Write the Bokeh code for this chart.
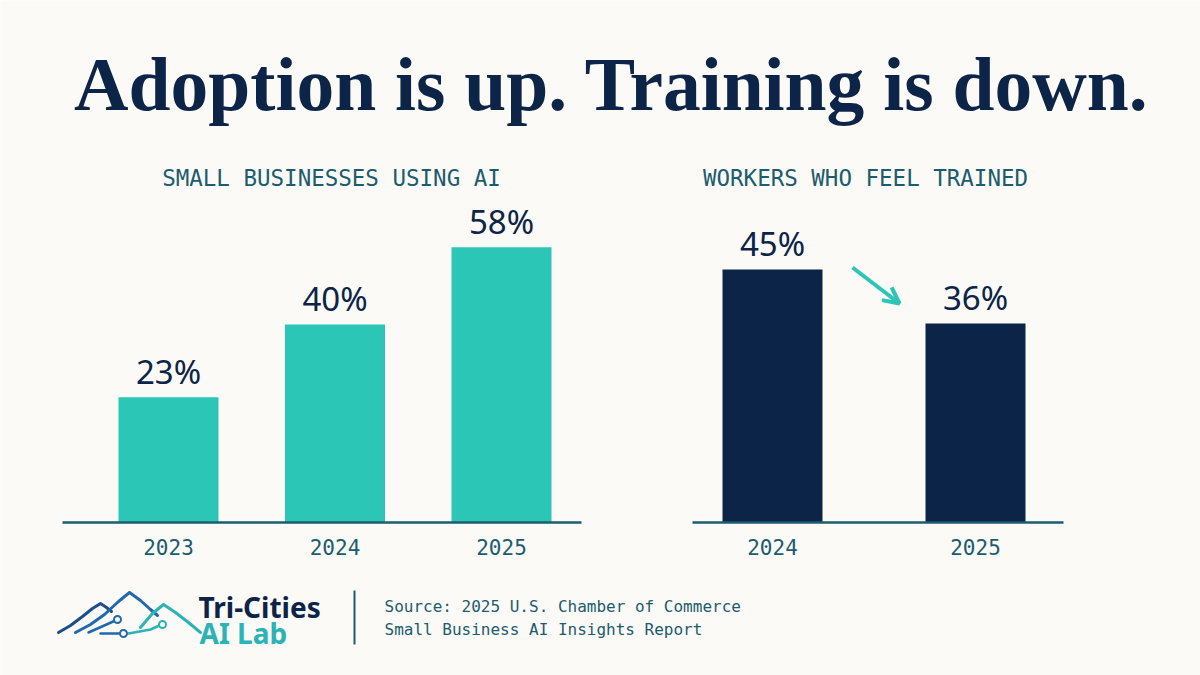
from bokeh.plotting import figure
from bokeh.models import Range1d, ColumnDataSource, Arrow, OpenHead
from bokeh.core.properties import value
from bokeh.embed import file_html
from bokeh.resources import INLINE

# ---------------- data ----------------
title = "Adoption is up. Training is down."
left_title = "SMALL BUSINESSES USING AI"
left_years = ["2023", "2024", "2025"]
left_values = [23, 40, 58]
right_title = "WORKERS WHO FEEL TRAINED"
right_years = ["2024", "2025"]
right_values = [45, 36]
brand_line1 = "Tri-Cities"
brand_line2 = "AI Lab"
source_lines = ["Source: 2025 U.S. Chamber of Commerce",
                "Small Business AI Insights Report"]

# ---------------- style ----------------
BG = "#FBFAF6"
NAVY = "#0B2447"
TEAL = "#2BC6B5"
LTEAL = "#2BB3B5"
BLUE = "#1F69AC"
DBLUE = "#1D4E89"
DTEAL = "#1B5C6E"
W, H = 1200, 675
SHIFT = 0.35  # svg baseline compensation (fraction of font size)

p = figure(width=W, height=H, output_backend="svg", toolbar_location=None,
           x_range=Range1d(0, W), y_range=Range1d(H, 0),
           min_border=0, min_border_left=0, min_border_right=0,
           min_border_top=0, min_border_bottom=0)
p.outline_line_color = None
p.background_fill_color = BG
p.border_fill_color = BG
p.axis.visible = False
p.grid.visible = False

# chart ranges (screen layout of each panel)
L_X0, L_DX = 168.0, 166.5
L_BASE, L_K, L_FLOOR = 522.0, 4.286, -6.2
R_X0, R_DX = 772.0, 203.0
R_BASE, R_K, R_FLOOR = 522.0, 6.0, 2.83

p.extra_x_ranges = {
    "lx": Range1d(-L_X0 / L_DX, (W - L_X0) / L_DX),
    "rx": Range1d(-R_X0 / R_DX, (W - R_X0) / R_DX),
}
p.extra_y_ranges = {
    "ly": Range1d(L_FLOOR - (H - L_BASE) / L_K, L_FLOOR + L_BASE / L_K),
    "ry": Range1d(R_FLOOR - (H - R_BASE) / R_K, R_FLOOR + R_BASE / R_K),
}

lsrc = ColumnDataSource(dict(x=list(range(len(left_years))), v=left_values,
                             lab=[f"{v}%" for v in left_values], yr=left_years))
rsrc = ColumnDataSource(dict(x=list(range(len(right_years))), v=right_values,
                             lab=[f"{v}%" for v in right_values], yr=right_years))


def ty(baseline, size):
    return baseline - SHIFT * size


# title
p.text(x=[611], y=[ty(110, 75.5)], text=[title], text_font=value("Liberation Serif"),
       text_font_style="bold", text_font_size="75.5px", text_color=NAVY,
       text_align="center", text_baseline="alphabetic")

# subtitles
p.text(x=[331, 865], y=[ty(185, 22.5)] * 2, text=[left_title, right_title],
       text_font=value("DejaVu Sans Mono"), text_font_size="22.5px",
       text_color=DTEAL, text_align="center", text_baseline="alphabetic")

LAB = 33
# left bars
p.vbar(x="x", top="v", bottom=L_FLOOR, width=100 / L_DX, source=lsrc,
       x_range_name="lx", y_range_name="ly", fill_color=TEAL, line_color=None)
p.text(x="x", y="v", text="lab", source=lsrc, x_range_name="lx", y_range_name="ly",
       y_offset=-14 - SHIFT * LAB, text_font=value("Noto Sans"),
       text_font_size=f"{LAB}px", text_color=NAVY, text_align="center",
       text_baseline="alphabetic")
p.text(x="x", y=ty(554, 21), text="yr", source=lsrc, x_range_name="lx",
       text_font=value("DejaVu Sans Mono"), text_font_size="21px",
       text_color=DTEAL, text_align="center", text_baseline="alphabetic")
p.line(x=[62, 581], y=[L_BASE, L_BASE], line_color=DTEAL, line_width=2.5)

# right bars
p.vbar(x="x", top="v", bottom=R_FLOOR, width=100 / R_DX, source=rsrc,
       x_range_name="rx", y_range_name="ry", fill_color=NAVY, line_color=None)
p.text(x="x", y="v", text="lab", source=rsrc, x_range_name="rx", y_range_name="ry",
       y_offset=-14 - SHIFT * LAB, text_font=value("Noto Sans"),
       text_font_size=f"{LAB}px", text_color=NAVY, text_align="center",
       text_baseline="alphabetic")
p.text(x="x", y=ty(554, 21), text="yr", source=rsrc, x_range_name="rx",
       text_font=value("DejaVu Sans Mono"), text_font_size="21px",
       text_color=DTEAL, text_align="center", text_baseline="alphabetic")
p.line(x=[692, 1063], y=[R_BASE, R_BASE], line_color=DTEAL, line_width=2.5)

# trend arrow
p.add_layout(Arrow(x_start=852, y_start=267, x_end=899, y_end=303,
                   line_color=TEAL, line_width=4,
                   end=OpenHead(size=16, line_color=TEAL, line_width=4)))

# logo mountains
p.multi_line(
    xs=[[58, 70, 82, 92, 100, 106, 111],
        [75, 90, 104, 118, 129, 140, 150, 157],
        [140, 152, 163, 175, 188, 200]],
    ys=[[632, 625, 616, 608, 603, 607, 611],
        [632, 624, 614, 601, 592, 600, 609, 615],
        [627, 613, 604, 612, 622, 632]],
    line_color=[DBLUE, BLUE, LTEAL], line_width=3,
    line_cap="round", line_join="round")
p.multi_line(
    xs=[[88, 106, 115], [100, 120], [128, 150, 159]],
    ys=[[632, 624, 620], [633, 633], [633, 629, 625]],
    line_color=[BLUE, BLUE, LTEAL], line_width=2.5,
    line_cap="round")
p.scatter(x=[117, 123, 162], y=[619, 633, 624], size=7, fill_color=BG,
          line_color=[BLUE, BLUE, LTEAL], line_width=2)

p.text(x=[198], y=[ty(616, 28)], text=[brand_line1], text_font=value("Noto Sans"),
       text_font_style="bold", text_font_size="28px", text_color=NAVY,
       text_baseline="alphabetic")
p.text(x=[199], y=[ty(642, 28)], text=[brand_line2], text_font=value("Noto Sans"),
       text_font_style="bold", text_font_size="28px", text_color=LTEAL,
       text_baseline="alphabetic")
p.line(x=[354, 354], y=[590, 644], line_color=DTEAL, line_width=2)

p.text(x=[384, 384], y=[ty(612, 16), ty(635, 16)], text=source_lines,
       text_font=value("DejaVu Sans Mono"), text_font_size="16px",
       text_color=DTEAL, text_baseline="alphabetic")

open("out.html", "w").write(file_html(p, INLINE))
